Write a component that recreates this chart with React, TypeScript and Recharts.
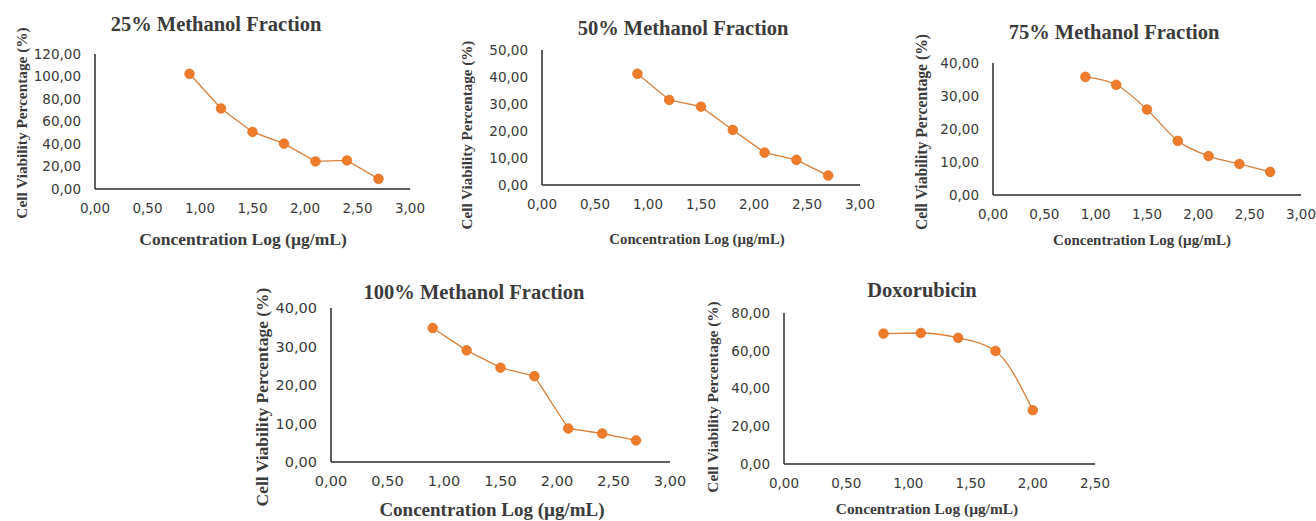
import React from "react";
import { LineChart, Line, XAxis, YAxis } from "recharts";

// concentration (log µg/mL) used for the four methanol fractions
const fractionLogConc = [0.9, 1.2, 1.5, 1.8, 2.1, 2.4, 2.7];
const doxLogConc = [0.8, 1.1, 1.4, 1.7, 2.0];

// cell viability (%)
const viability25 = [102.4, 71.6, 50.7, 40.3, 24.5, 25.4, 9.0];
const viability50 = [41.2, 31.5, 29.0, 20.4, 12.0, 9.3, 3.5];
const viability75 = [35.8, 33.4, 25.9, 16.4, 11.8, 9.4, 7.0];
const viability100 = [34.8, 29.0, 24.5, 22.3, 8.7, 7.4, 5.6];
const viabilityDox = [69.1, 69.4, 66.8, 59.9, 28.5];

const xTicksFraction = [0, 0.5, 1, 1.5, 2, 2.5, 3];
const xTicksDox = [0, 0.5, 1, 1.5, 2, 2.5];
const yTicks120 = [0, 20, 40, 60, 80, 100, 120];
const yTicks50 = [0, 10, 20, 30, 40, 50];
const yTicks40 = [0, 10, 20, 30, 40];
const yTicks80 = [0, 20, 40, 60, 80];

const titles = [
  "25% Methanol Fraction",
  "50% Methanol Fraction",
  "75% Methanol Fraction",
  "100% Methanol Fraction",
  "Doxorubicin",
];

const Y_LABEL = "Cell Viability Percentage (%)";
const X_LABEL = "Concentration Log (µg/mL)";
const ORANGE = "#ef7c2c";
const SERIF = "'Liberation Serif', 'Times New Roman', serif";

const toRows = (xs: number[], ys: number[]) => xs.map((x, i) => ({ x, y: ys[i] }));
const fmt = (v: number) => v.toFixed(2).replace(".", ",");

// pixel layout of each panel (plot box + label placement)
const panels = [
  {
    data: toRows(fractionLogConc, viability25), xTicks: xTicksFraction, yTicks: yTicks120, curve: "linear",
    x0: 95, x1: 410, yTop: 54, yBottom: 189, tickSize: 13.5,
    title: { x: 216, y: 24 }, yl: { x: 22, y: 123, size: 15.3 }, xl: { x: 243, y: 240, size: 17.5 },
  },
  {
    data: toRows(fractionLogConc, viability50), xTicks: xTicksFraction, yTicks: yTicks50, curve: "linear",
    x0: 542, x1: 860, yTop: 50, yBottom: 185, tickSize: 13.5,
    title: { x: 683, y: 28 }, yl: { x: 468, y: 135, size: 15.1 }, xl: { x: 697, y: 239, size: 14.8 },
  },
  {
    data: toRows(fractionLogConc, viability75), xTicks: xTicksFraction, yTicks: yTicks40, curve: "monotone",
    x0: 993, x1: 1301, yTop: 63, yBottom: 195, tickSize: 13.5,
    title: { x: 1114, y: 32 }, yl: { x: 922, y: 132, size: 15.7 }, xl: { x: 1142, y: 240, size: 15 },
  },
  {
    data: toRows(fractionLogConc, viability100), xTicks: xTicksFraction, yTicks: yTicks40, curve: "linear",
    x0: 331, x1: 670, yTop: 308, yBottom: 462, tickSize: 14.5,
    title: { x: 474, y: 292 }, yl: { x: 263, y: 397, size: 17.5 }, xl: { x: 492, y: 509, size: 19 },
  },
  {
    data: toRows(doxLogConc, viabilityDox), xTicks: xTicksDox, yTicks: yTicks80, curve: "monotone",
    x0: 784, x1: 1095, yTop: 313, yBottom: 464, tickSize: 13.5,
    title: { x: 922, y: 290 }, yl: { x: 713, y: 397, size: 15.3 }, xl: { x: 927, y: 509, size: 15.4 },
  },
];

const YW = 70;
const MT = 10;
const MR = 24;
const XH = 34;

function Panel({ p, title }: { p: (typeof panels)[number]; title: string }) {
  const xMax = p.xTicks[p.xTicks.length - 1];
  const yMax = p.yTicks[p.yTicks.length - 1];
  const w = p.x1 - p.x0 + YW + MR;
  const h = p.yBottom - p.yTop + MT + XH;
  const tick = { fill: "#3a3a3a", fontSize: p.tickSize, fontFamily: "'DejaVu Sans', sans-serif" };
  const textBase: React.CSSProperties = {
    position: "absolute",
    fontFamily: SERIF,
    fontWeight: "bold",
    color: "#3b3b3b",
    whiteSpace: "nowrap",
    lineHeight: 1,
  };
  return (
    <>
      <div style={{ position: "absolute", left: p.x0 - YW, top: p.yTop - MT }}>
        <LineChart width={w} height={h} data={p.data} margin={{ top: MT, right: MR, left: 0, bottom: 0 }}>
          <XAxis
            type="number"
            dataKey="x"
            domain={[0, xMax]}
            ticks={p.xTicks}
            tickFormatter={fmt}
            tickLine={false}
            tickMargin={8}
            height={XH}
            axisLine={{ stroke: "#2b2b2b", strokeWidth: 1.5 }}
            tick={tick}
          />
          <YAxis
            type="number"
            dataKey="y"
            domain={[0, yMax]}
            ticks={p.yTicks}
            tickFormatter={fmt}
            tickLine={false}
            tickMargin={8}
            width={YW}
            axisLine={{ stroke: "#2b2b2b", strokeWidth: 1.5 }}
            tick={tick}
          />
          <Line
            type={p.curve as "linear" | "monotone"}
            dataKey="y"
            stroke="#d9803c"
            strokeWidth={1.3}
            dot={{ r: 4.8, fill: ORANGE, stroke: "#e0721f", strokeWidth: 0.8 }}
            isAnimationActive={false}
          />
        </LineChart>
      </div>
      <div style={{ ...textBase, left: p.title.x, top: p.title.y, fontSize: 20.5, transform: "translate(-50%, -50%)" }}>
        {title}
      </div>
      <div
        style={{
          ...textBase,
          left: p.yl.x,
          top: p.yl.y,
          fontSize: p.yl.size,
          transform: "translate(-50%, -50%) rotate(-90deg)",
        }}
      >
        {Y_LABEL}
      </div>
      <div style={{ ...textBase, left: p.xl.x, top: p.xl.y, fontSize: p.xl.size, transform: "translate(-50%, -50%)" }}>
        {X_LABEL}
      </div>
    </>
  );
}

export default function App() {
  return (
    <div style={{ position: "absolute", left: 0, top: 0, width: 1316, height: 521, background: "#fff", overflow: "hidden" }}>
      {panels.map((p, i) => (
        <Panel key={i} p={p} title={titles[i]} />
      ))}
    </div>
  );
}
